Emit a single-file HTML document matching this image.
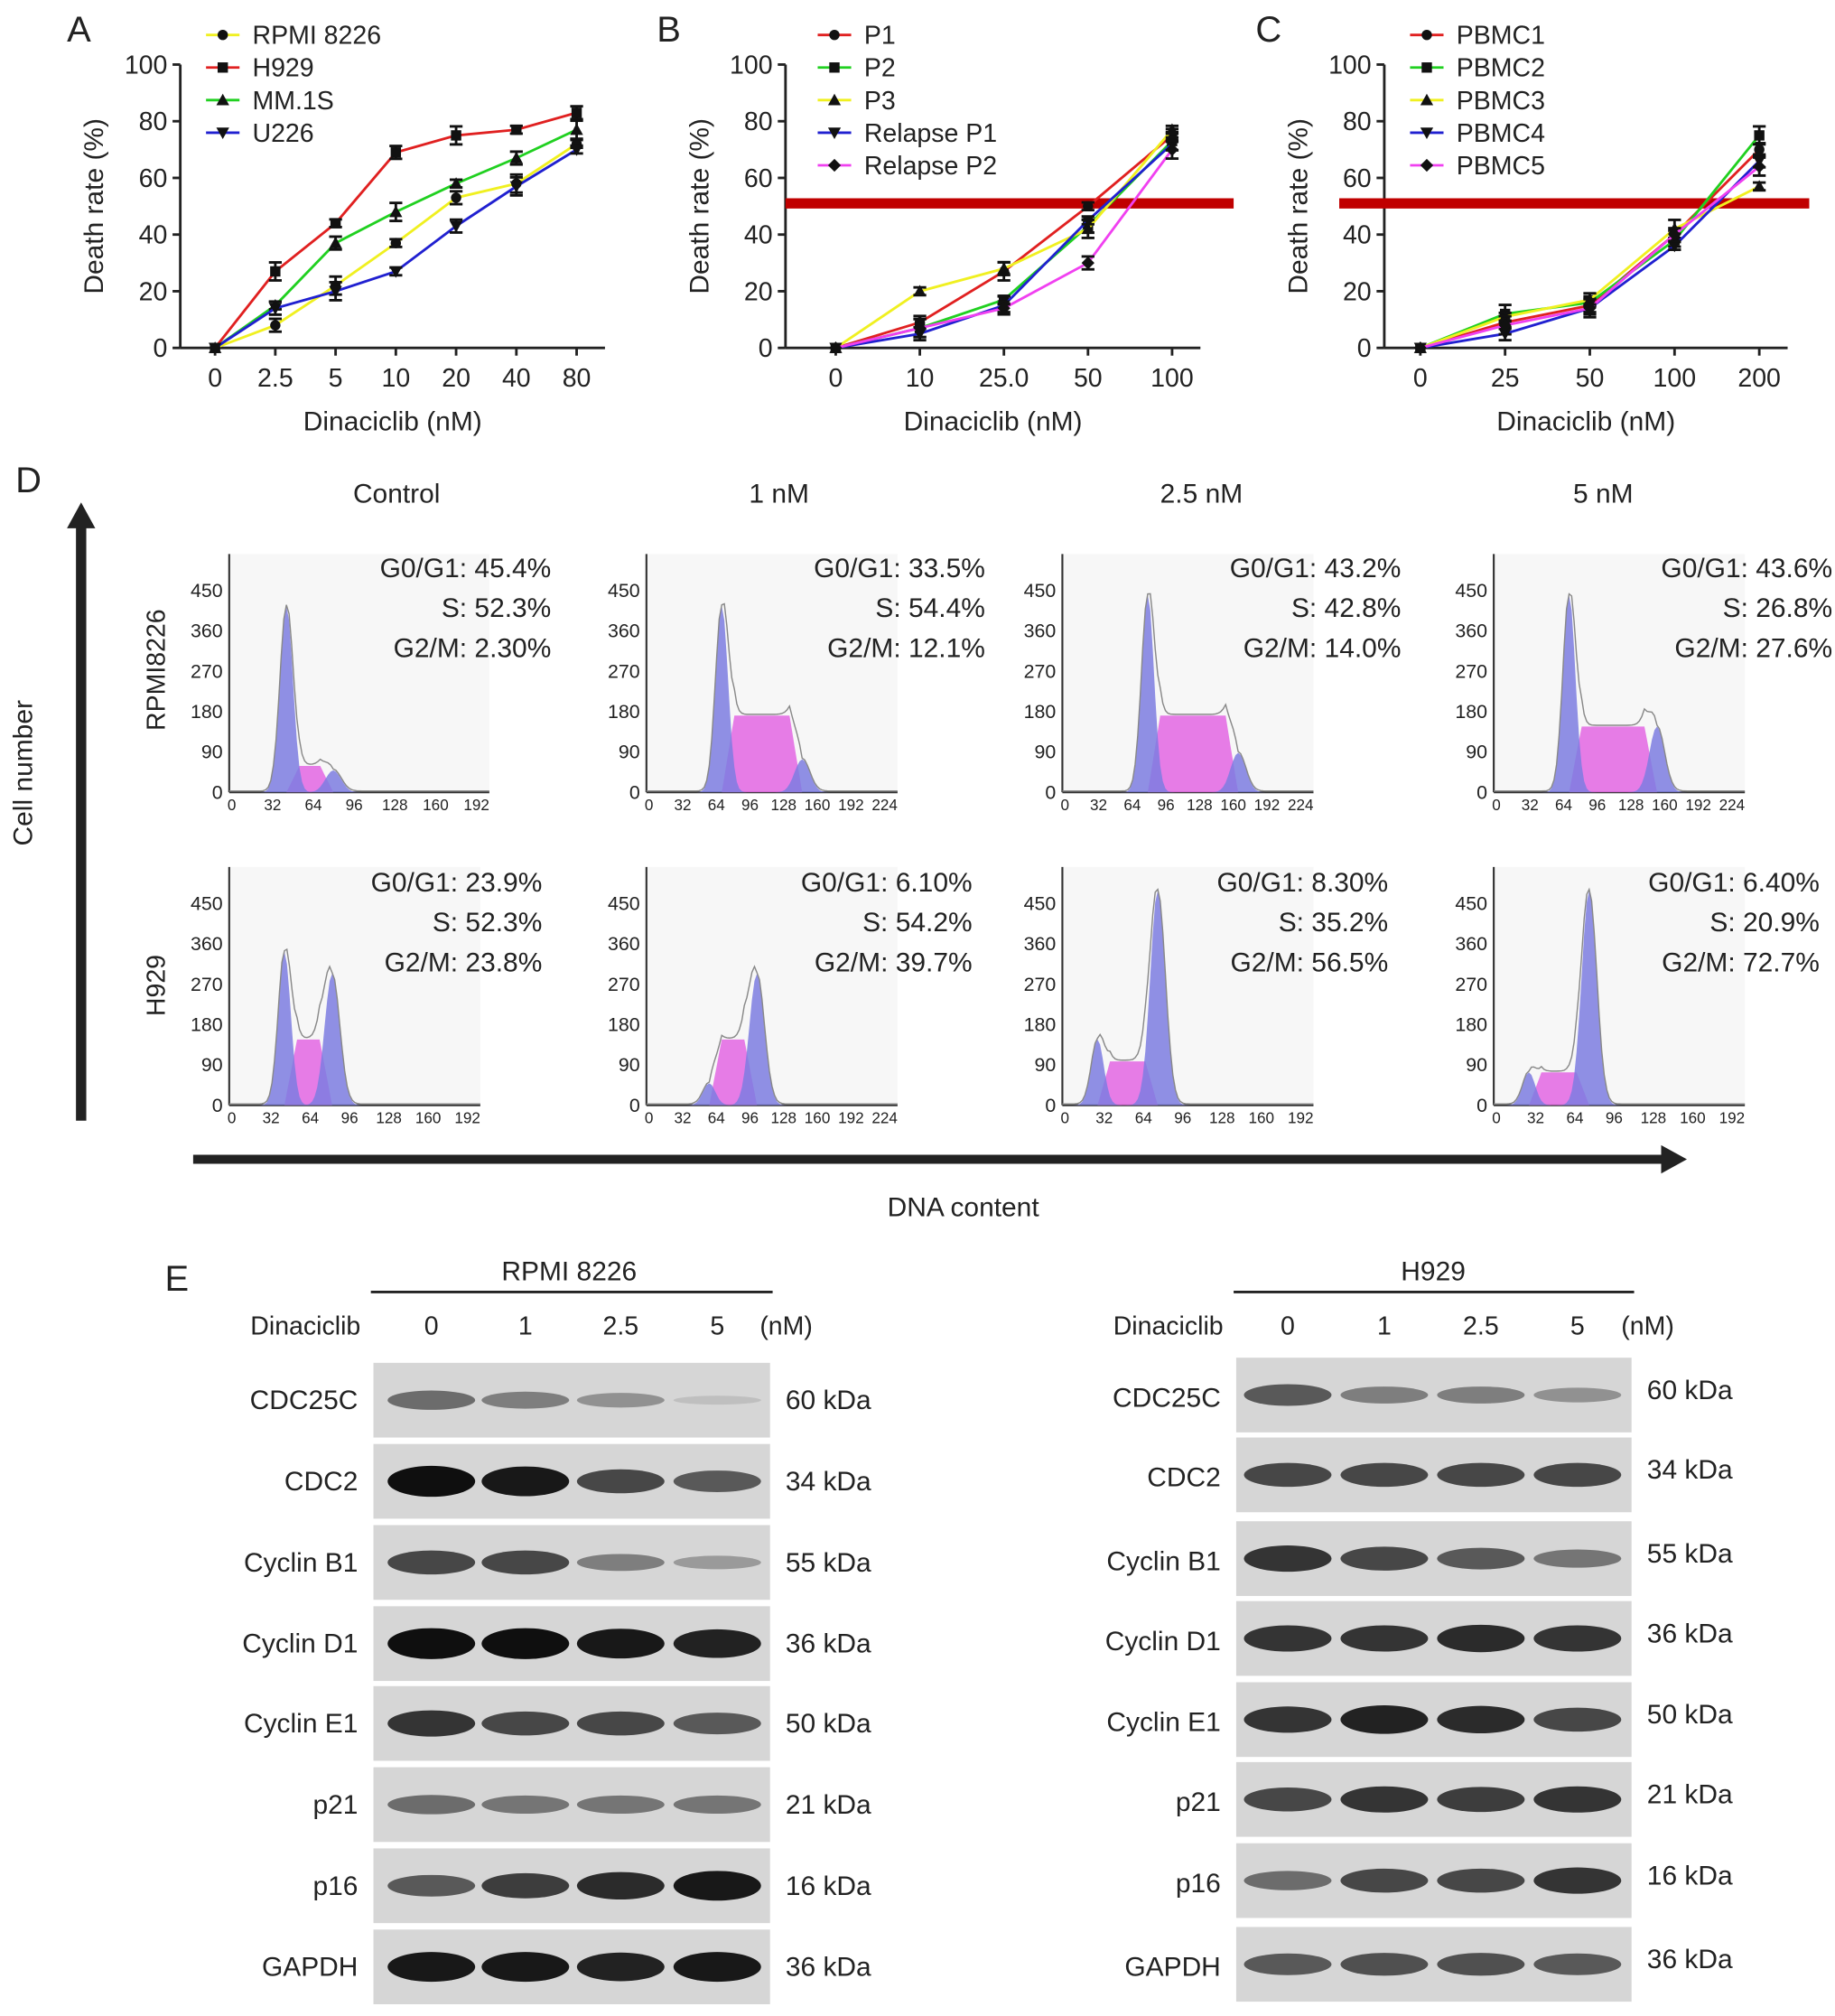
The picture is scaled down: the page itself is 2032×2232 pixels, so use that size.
<!DOCTYPE html>
<html><head><meta charset="utf-8"><style>
html,body{margin:0;padding:0;background:#fff}
svg{display:block}
text{font-family:"Liberation Sans",Arial,sans-serif;fill:#222}
</style></head><body>
<svg id="fig" width="2032" height="2232" viewBox="0 0 1425 1565" xmlns="http://www.w3.org/2000/svg"></svg>
<script>
// ---- Panel A data ----
const catsA = ["0","2.5","5","10","20","40","80"];
const seriesNamesA = ["RPMI 8226","H929","MM.1S","U226"];
const rpmiA = [0,8,22,37,53,58,72];
const h929A = [0,27,44,69,75,77,83];
const mm1sA = [0,15,37,48,58,67,77];
const u226A = [0,14,20,27,43,57,70];
// ---- Panel B data ----
const catsB = ["0","10","25.0","50","100"];
const seriesNamesB = ["P1","P2","P3","Relapse P1","Relapse P2"];
const p1B = [0,9,27,50,75];
const p2B = [0,7,17,43,73];
const p3B = [0,20,28,42,77];
const rp1B = [0,5,15,45,72];
const rp2B = [0,7,14,30,70];
// ---- Panel C data ----
const catsC = ["0","25","50","100","200"];
const seriesNamesC = ["PBMC1","PBMC2","PBMC3","PBMC4","PBMC5"];
const pb1C = [0,9,15,40,70];
const pb2C = [0,12,16,38,75];
const pb3C = [0,11,17,42,57];
const pb4C = [0,5,14,36,66];
const pb5C = [0,8,14,40,64];
const yTicks = [0,20,40,60,80,100];

const NS="http://www.w3.org/2000/svg";
const svg=document.getElementById('fig');
function el(tag,attrs,parent,txt){const e=document.createElementNS(NS,tag);for(const k in attrs)e.setAttribute(k,attrs[k]);if(txt!==undefined)e.textContent=txt;(parent||svg).appendChild(e);return e;}

function marker(g,shape,x,y,fill){
  if(shape==='circle') return el('circle',{cx:x,cy:y,r:4,fill:fill},g);
  if(shape==='square') return el('rect',{x:x-4,y:y-4,width:8,height:8,fill:fill},g);
  if(shape==='tri') return el('polygon',{points:`${x},${y-5} ${x-5},${y+4} ${x+5},${y+4}`,fill:fill},g);
  if(shape==='vtri') return el('polygon',{points:`${x},${y+5} ${x-5},${y-4} ${x+5},${y-4}`,fill:fill},g);
  return el('polygon',{points:`${x},${y-5} ${x+5},${y} ${x},${y+5} ${x-5},${y}`,fill:fill},g);
}

function lineChart(cfg){
  const g=el('g',{});
  
  
  const y0=270,y1=50;
  const ys=v=>y0-(v/100)*(y0-y1);
  const xs=i=>cfg.xStart+i*cfg.step;
  // y axis
  el('line',{x1:cfg.axX,y1:y1,x2:cfg.axX,y2:y0,stroke:'#222','stroke-width':2},g);
  yTicks.forEach(t=>{
    el('line',{x1:cfg.axX-6,y1:ys(t),x2:cfg.axX,y2:ys(t),stroke:'#222','stroke-width':2},g);
    const tt=el('text',{x:cfg.axX-10,y:ys(t)+7,'text-anchor':'end','font-size':20},g,t);
    
    
  });
  // x axis
  const xEnd=xs(cfg.cats.length-1)+22;
  el('line',{x1:cfg.axX,y1:y0,x2:xEnd,y2:y0,stroke:'#222','stroke-width':2},g);
  cfg.cats.forEach((c,i)=>{
    el('line',{x1:xs(i),y1:y0,x2:xs(i),y2:y0+6,stroke:'#222','stroke-width':2},g);
    const tt=el('text',{x:xs(i),y:300,'text-anchor':'middle','font-size':20},g,c);
    
    
  });
  const xt=el('text',{x:(cfg.axX+xEnd)/2,y:334,'text-anchor':'middle','font-size':21},g,'Dinaciclib (nM)');
  
  
  const yt=el('text',{x:0,y:0,'text-anchor':'middle','font-size':21,transform:`translate(${cfg.axX-60},160) rotate(-90)`},g,'Death rate (%)');
  
  
  const pl=el('text',{x:cfg.labelX,y:32,'font-size':28},g,cfg.letter);
  
  
  if(cfg.threshold){
    const th=el('line',{x1:cfg.thX1,y1:ys(cfg.threshold),x2:cfg.thX2,y2:ys(cfg.threshold),stroke:'#c00000','stroke-width':8},g);
    
    
  }
  cfg.series.forEach((s,si)=>{
    const sg=el('g',{},g);
    
    
    el('polyline',{points:s.vals.map((v,i)=>xs(i)+','+ys(v)).join(' '),fill:'none',stroke:s.color,'stroke-width':2},sg);
    s.vals.forEach((v,i)=>{
      if(i>0){const e=3+((i+si)%3)*2;
        el('line',{x1:xs(i),y1:ys(v)-e,x2:xs(i),y2:ys(v)+e,stroke:'#111','stroke-width':2},sg);
        el('line',{x1:xs(i)-5,y1:ys(v)-e,x2:xs(i)+5,y2:ys(v)-e,stroke:'#111','stroke-width':2},sg);
        el('line',{x1:xs(i)-5,y1:ys(v)+e,x2:xs(i)+5,y2:ys(v)+e,stroke:'#111','stroke-width':2},sg);}
      const m=marker(sg,s.shape,xs(i),ys(v),'#111');
      
      
    });
    // legend
    const ly=27+si*25.3;
    const lg=el('g',{},g);
    
    
    el('line',{x1:cfg.legX,y1:ly,x2:cfg.legX+26,y2:ly,stroke:s.color,'stroke-width':2},lg);
    marker(lg,s.shape,cfg.legX+13,ly,'#111');
    el('text',{x:cfg.legX+36,y:ly+7,'font-size':20},lg,s.label);
  });
}
const shapes=['circle','square','tri','vtri','diamond'];
lineChart({name:'panel-a-chart',letter:'A',labelX:52,axX:140,xStart:167,step:46.8,cats:catsA,legX:160,
  series:[{label:seriesNamesA[0],vals:rpmiA,color:'#f0f020',shape:'circle'},{label:seriesNamesA[1],vals:h929A,color:'#e02020',shape:'square'},
  {label:seriesNamesA[2],vals:mm1sA,color:'#20d020',shape:'tri'},{label:seriesNamesA[3],vals:u226A,color:'#2020d0',shape:'vtri'}]});
lineChart({name:'panel-b-chart',letter:'B',labelX:510,axX:610,xStart:649,step:65.3,cats:catsB,legX:635,threshold:51,thX1:610,thX2:958,
  series:[{label:seriesNamesB[0],vals:p1B,color:'#e02020',shape:'circle'},{label:seriesNamesB[1],vals:p2B,color:'#20d020',shape:'square'},
  {label:seriesNamesB[2],vals:p3B,color:'#f0f020',shape:'tri'},{label:seriesNamesB[3],vals:rp1B,color:'#2020d0',shape:'vtri'},{label:seriesNamesB[4],vals:rp2B,color:'#f040f0',shape:'diamond'}]});
lineChart({name:'panel-c-chart',letter:'C',labelX:975,axX:1075,xStart:1103,step:65.8,cats:catsC,legX:1095,threshold:51,thX1:1040,thX2:1405,
  series:[{label:seriesNamesC[0],vals:pb1C,color:'#e02020',shape:'circle'},{label:seriesNamesC[1],vals:pb2C,color:'#20d020',shape:'square'},
  {label:seriesNamesC[2],vals:pb3C,color:'#f0f020',shape:'tri'},{label:seriesNamesC[3],vals:pb4C,color:'#2020d0',shape:'vtri'},{label:seriesNamesC[4],vals:pb5C,color:'#f040f0',shape:'diamond'}]});

// ---- Panel D ----
const condLabels=["Control","1 nM","2.5 nM","5 nM"];
const rowLabels=["RPMI8226","H929"];
const g1Pct=[["45.4%","33.5%","43.2%","43.6%"],["23.9%","6.10%","8.30%","6.40%"]];
const sPct=[["52.3%","54.4%","42.8%","26.8%"],["52.3%","54.2%","35.2%","20.9%"]];
const g2Pct=[["2.30%","12.1%","14.0%","27.6%"],["23.8%","39.7%","56.5%","72.7%"]];
const histTicks=[["0","32","64","96","128","160","192"],["0","32","64","96","128","160","192","224"]];
const histYTicks=[0,90,180,270,360,450];
// peak shapes: [g1 pos frac, g1 height frac, g2 pos, g2 height, s height]
const peaks=[[[0.22,0.85,0.4,0.1,0.12],[0.3,0.85,0.62,0.15,0.35],[0.34,0.9,0.7,0.18,0.35],[0.3,0.9,0.65,0.3,0.3]],
             [[0.22,0.7,0.41,0.6,0.3],[0.25,0.1,0.44,0.6,0.3],[0.14,0.3,0.38,0.98,0.2],[0.14,0.15,0.38,0.98,0.15]]];
const dg=el('g',{});
el('text',{x:12,y:382,'font-size':28},dg,'D');
el('line',{x1:63,y1:870,x2:63,y2:405,stroke:'#222','stroke-width':8},dg);
el('polygon',{points:'63,390 52,410 74,410',fill:'#222'},dg);
el('text',{x:0,y:0,'font-size':21,'text-anchor':'middle',transform:'translate(25,600) rotate(-90)'},dg,'Cell number');
el('line',{x1:150,y1:900,x2:1295,y2:900,stroke:'#222','stroke-width':7},dg);
el('polygon',{points:'1310,900 1290,889 1290,911',fill:'#222'},dg);
el('text',{x:748,y:944,'font-size':21,'text-anchor':'middle'},dg,'DNA content');
const colX=[178,502,825,1160];
const colLab=[308,605,933,1245];
condLabels.forEach((c,i)=>el('text',{x:colLab[i],y:390,'font-size':21,'text-anchor':'middle'},dg,c));
rowLabels.forEach((r,ri)=>el('text',{x:0,y:0,'font-size':20,'text-anchor':'middle',transform:`translate(128,${ri?765:520}) rotate(-90)`},dg,r));
function gauss(x,m,s){return Math.exp(-((x-m)*(x-m))/(2*s*s));}
for(let ri=0;ri<2;ri++)for(let ci=0;ci<4;ci++){
  const hg=el('g',{},dg);
  
  
  const x0=colX[ci],base=ri?858:615,top=base-185,w=ri?195:(ci==0?202:195);
  el('rect',{x:x0,y:top,width:w,height:185,fill:'#f7f7f7'},hg);
  el('line',{x1:x0,y1:top,x2:x0,y2:base,stroke:'#333','stroke-width':1.5},hg);
  el('line',{x1:x0,y1:base,x2:x0+w,y2:base,stroke:'#333','stroke-width':1.5},hg);
  histYTicks.forEach((t,k)=>el('text',{x:x0-5,y:base-k*31.3+5,'font-size':15,'text-anchor':'end'},hg,t));
  const tl=histTicks[(ri==0&&ci>0)||(ri==1&&ci==1)?1:0];
  tl.forEach((t,k)=>el('text',{x:x0+k*(w-12)/(tl.length-1)+2,y:base+14,'font-size':12,'text-anchor':'middle'},hg,t));
  const p=peaks[ri][ci];const H=170;
  const g1=[],g2=[],sp=[],tot=[];
  for(let k=0;k<=100;k++){const f=k/100,x=x0+f*w;
    const a=gauss(f,p[0],0.025)*p[1],b=gauss(f,p[2],0.03)*p[3];
    const s=(f>p[0]&&f<p[2])?p[4]*Math.min(1,(f-p[0])/0.05,(p[2]-f)/0.05):0;
    g1.push([x,base-a*H]);g2.push([x,base-b*H]);sp.push([x,base-s*H]);tot.push([x,base-(a+b+s)*H-1]);}
  const poly=arr=>arr.map(q=>q[0].toFixed(1)+','+q[1].toFixed(1)).join(' ')+` ${x0+w},${base} ${x0},${base}`;
  el('polygon',{points:poly(sp),fill:'#e36ee3',opacity:0.9},hg);
  el('polygon',{points:poly(g1),fill:'#7c7ce0',opacity:0.85},hg);
  el('polygon',{points:poly(g2),fill:'#7c7ce0',opacity:0.85},hg);
  el('polyline',{points:tot.map(q=>q[0].toFixed(1)+','+q[1].toFixed(1)).join(' '),fill:'none',stroke:'#888','stroke-width':1},hg);
  const tx=x0+w+ (ri==0?(ci==0?48:68):(ci==0?48:58)) ;
  const ty=ri?692:448;
  el('text',{x:tx,y:ty,'font-size':21,'text-anchor':'end'},hg,'G0/G1: '+g1Pct[ri][ci]);
  el('text',{x:tx,y:ty+31,'font-size':21,'text-anchor':'end'},hg,'S: '+sPct[ri][ci]);
  el('text',{x:tx,y:ty+62,'font-size':21,'text-anchor':'end'},hg,'G2/M: '+g2Pct[ri][ci]);
}

// ---- Panel E ----
const proteins=["CDC25C","CDC2","Cyclin B1","Cyclin D1","Cyclin E1","p21","p16","GAPDH"];
const kda=["60 kDa","34 kDa","55 kDa","36 kDa","50 kDa","21 kDa","16 kDa","36 kDa"];
const doses=["0","1","2.5","5"];
const bandL=[[0.5,0.4,0.3,0.05],[1,0.95,0.7,0.6],[0.7,0.7,0.4,0.25],[1,1,0.95,0.9],[0.8,0.7,0.7,0.6],[0.5,0.45,0.45,0.45],[0.6,0.75,0.85,0.95],[0.95,0.95,0.9,0.95]];
const bandR=[[0.6,0.4,0.4,0.3],[0.7,0.7,0.7,0.7],[0.8,0.7,0.6,0.45],[0.8,0.8,0.85,0.8],[0.8,0.9,0.85,0.7],[0.7,0.8,0.75,0.8],[0.5,0.7,0.7,0.8],[0.6,0.65,0.65,0.6]];
const eg=el('g',{});
el('text',{x:128,y:1002,'font-size':28},eg,'E');
function blot(cfg){
  el('text',{x:cfg.cx,y:994,'font-size':21,'text-anchor':'middle'},eg,cfg.title);
  el('line',{x1:cfg.bx-2,y1:1003,x2:cfg.bx+cfg.bw+2,y2:1003,stroke:'#222','stroke-width':2},eg);
  el('text',{x:cfg.bx-10,y:1036,'font-size':20,'text-anchor':'end'},eg,'Dinaciclib');
  doses.forEach((d,i)=>el('text',{x:cfg.lanes[i],y:1036,'font-size':20,'text-anchor':'middle'},eg,d));
  el('text',{x:cfg.bx+cfg.bw-8,y:1036,'font-size':20},eg,'(nM)');
  proteins.forEach((p,r)=>{
    const cy=cfg.rows[r];
    const rg=el('g',{},eg);
    
    
    el('rect',{x:cfg.bx,y:cy-29,width:cfg.bw,height:58,fill:'#d6d6d6'},rg);
    cfg.band[r].forEach((v,i)=>{
      const c=Math.round(200-v*185);
      el('ellipse',{cx:cfg.lanes[i],cy:cy,rx:34,ry:3+v*9,fill:`rgb(${c},${c},${c})`},rg);
    });
    el('text',{x:cfg.bx-12,y:cy+7+(cfg.right?2:0),'font-size':21,'text-anchor':'end'},rg,p);
    el('text',{x:cfg.bx+cfg.bw+12,y:cy+7-(cfg.right?4:0),'font-size':21},rg,kda[r]);
  });
}
blot({title:'RPMI 8226',cx:442,bx:290,bw:308,lanes:[335,408,482,557],rows:[1087,1150,1213,1276,1338,1401,1464,1527],band:bandL});
blot({title:'H929',cx:1113,bx:960,bw:307,lanes:[1000,1075,1150,1225],rows:[1083,1145,1210,1272,1335,1397,1460,1525],band:bandR,right:true});
</script>
</body></html>
